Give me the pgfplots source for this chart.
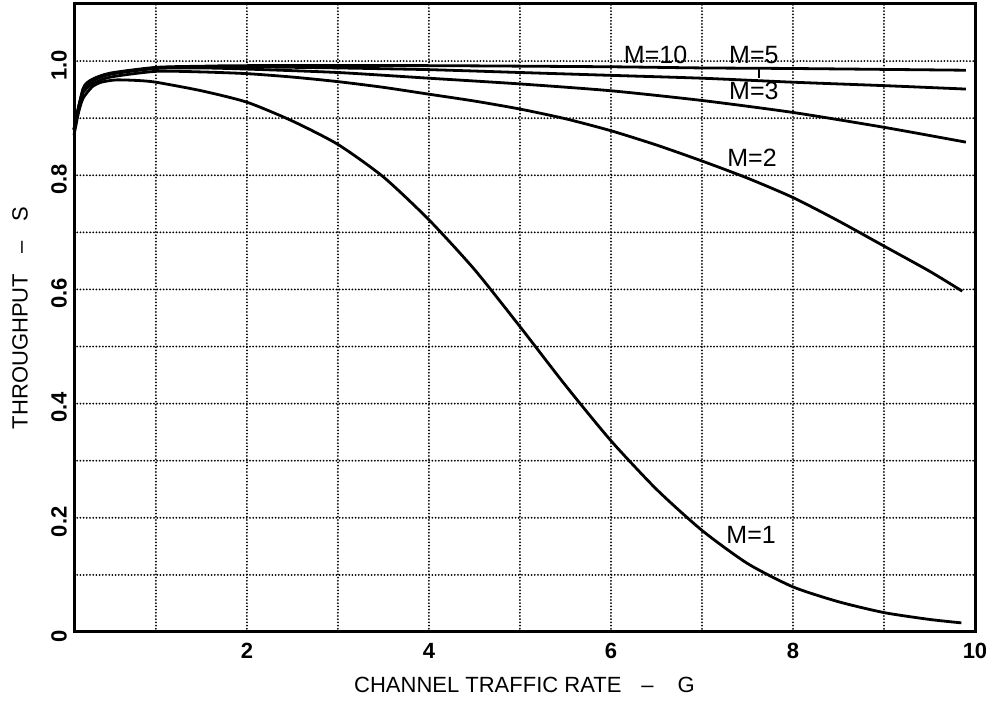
\documentclass[border=0pt]{standalone}
\usepackage{pgfplots}
\pgfplotsset{compat=1.18}
\usepackage{fontspec}
\setmainfont{Liberation Sans}

\pgfplotstableread{
G S
0.10 0.870
0.15 0.910
0.20 0.935
0.30 0.955
0.40 0.963
0.56 0.967
0.80 0.966
1.00 0.963
1.50 0.948
2.00 0.928
2.50 0.895
3.00 0.854
3.50 0.797
4.00 0.722
4.50 0.635
5.00 0.535
5.50 0.432
6.00 0.335
6.50 0.250
7.00 0.178
7.50 0.120
8.00 0.079
8.50 0.053
9.00 0.034
9.50 0.022
9.85 0.016
}\mone

\pgfplotstableread{
G S
0.10 0.880
0.15 0.920
0.20 0.945
0.30 0.960
0.50 0.972
1.00 0.982
1.50 0.981
2.00 0.978
2.50 0.972
3.00 0.964
3.50 0.954
4.00 0.942
4.50 0.930
5.00 0.916
5.50 0.899
6.00 0.878
6.50 0.853
7.00 0.825
7.50 0.795
8.00 0.761
8.50 0.720
9.00 0.676
9.50 0.632
9.86 0.597
}\mtwo

\pgfplotstableread{
G S
0.10 0.880
0.20 0.948
0.30 0.965
0.50 0.977
1.00 0.987
1.50 0.988
2.00 0.986
3.00 0.980
4.00 0.970
5.00 0.960
6.00 0.948
7.00 0.931
8.00 0.910
9.00 0.884
9.90 0.858
}\mthree

\pgfplotstableread{
G S
0.10 0.880
0.20 0.950
0.30 0.967
0.50 0.978
1.00 0.988
1.50 0.990
2.00 0.990
3.00 0.988
4.00 0.985
5.00 0.980
6.00 0.975
7.00 0.970
8.00 0.963
9.00 0.957
9.90 0.951
}\mfive

\pgfplotstableread{
G S
0.10 0.880
0.20 0.952
0.30 0.968
0.50 0.979
1.00 0.989
1.50 0.991
2.00 0.992
4.00 0.992
6.00 0.990
7.00 0.988
8.00 0.987
9.90 0.984
}\mten

\begin{document}
\begin{tikzpicture}
\begin{axis}[
  scale only axis,
  width=450.5pt, height=314pt,
  xmin=0.1, xmax=10, ymin=0, ymax=1.1,
  axis line style={line width=1.5pt},
  xtick={2,4,6,8,10}, minor xtick={1,3,5,7,9},
  xticklabels={2,4,6,8,10},
  ytick={0,0.2,0.4,0.6,0.8,1.0}, minor ytick={0.1,0.3,0.5,0.7,0.9},
  yticklabels={0,0.2,0.4,0.6,0.8,1.0},
  grid=both,
  major grid style={line width=1pt, line cap=round, dash pattern=on 0pt off 1.6pt, black},
  minor grid style={line width=1pt, line cap=round, dash pattern=on 0pt off 1.6pt, black},
  major tick length=0pt, minor tick length=0pt,
  tick label style={font=\fontsize{11}{13}\selectfont\bfseries},
  xticklabel style={anchor=north, yshift=-2pt},
  yticklabel style={rotate=90, anchor=south, xshift=-2pt},
  xlabel={CHANNEL TRAFFIC RATE\hspace{10pt}--\hspace{12pt}G},
  ylabel={THROUGHPUT\hspace{10pt}--\hspace{10pt}S},
  label style={font=\fontsize{11}{13}\selectfont},
  xlabel style={at={(axis description cs:0.5,-0.084)}, anchor=center},
  ylabel style={at={(axis description cs:-0.06,0.5)}, anchor=center},
  curve/.style={black, no markers, line width=1.4pt, smooth, tension=0.4},
  clip=false,
]
\addplot[curve] table[x=G,y=S] {\mone};
\addplot[curve] table[x=G,y=S] {\mtwo};
\addplot[curve] table[x=G,y=S] {\mthree};
\addplot[curve] table[x=G,y=S] {\mfive};
\addplot[curve] table[x=G,y=S] {\mten};

\node[font=\fontsize{12.5}{14}\selectfont] at (axis cs:6.49,1.010) {M=10};
\node[font=\fontsize{12.5}{14}\selectfont] at (axis cs:7.57,1.010) {M=5};
\node[font=\fontsize{12.5}{14}\selectfont] at (axis cs:7.57,0.947) {M=3};
\node[font=\fontsize{12.5}{14}\selectfont] at (axis cs:7.55,0.831) {M=2};
\node[font=\fontsize{12.5}{14}\selectfont] at (axis cs:7.54,0.170) {M=1};
\draw[line width=1pt] (axis cs:7.63,0.990) -- (axis cs:7.63,0.970);

\coordinate (bl) at (rel axis cs:0,0);
\coordinate (tr) at (rel axis cs:1,1);
\end{axis}
\pgfresetboundingbox
\path[use as bounding box] ([shift={(-37pt,-34.5pt)}]bl) rectangle ([shift={(5.5pt,2pt)}]tr);
\end{tikzpicture}
\end{document}
